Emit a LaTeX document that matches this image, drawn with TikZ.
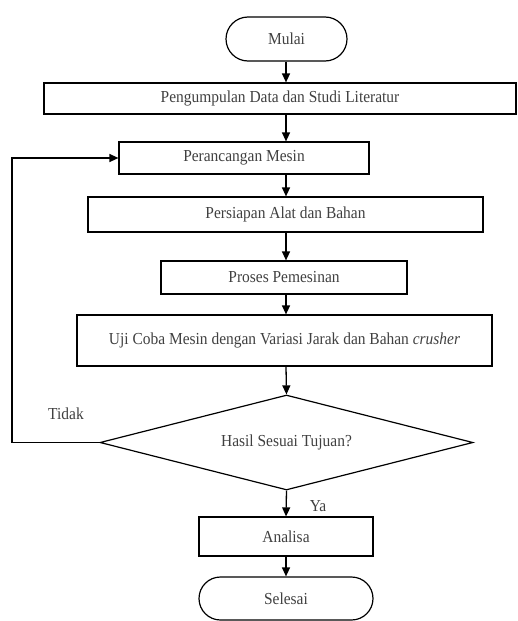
\documentclass[tikz,border=0pt]{standalone}
\usepackage{fontspec}
\setmainfont{Liberation Serif}[FakeStretch=0.92]
\usetikzlibrary{arrows.meta,shapes.geometric,shapes.misc}
\begin{document}
\begin{tikzpicture}[x=1pt,y=-1pt,
  every node/.style={font=\fontsize{16.8}{19}\selectfont, text=black!75},
  box/.style={draw=black, line width=1.2pt, rectangle, inner sep=0pt},
  term/.style={draw=black, line width=1.2pt, rounded rectangle, inner sep=0pt},
  dia/.style={draw=black, line width=1.2pt, diamond, inner sep=0pt},
  arr/.style={draw=black, line width=1.3pt, -{Triangle[length=9pt,width=8pt]}},
  lbl/.style={inner sep=0pt}
]
\useasboundingbox (0,0) rectangle (517,621);
\coordinate (ax) at (286,0);
\coordinate (lp) at (12,0);
\node[term, minimum width=121pt, minimum height=44pt] (mulai) at (286.5,39) {Mulai};
\node[box, minimum width=472pt, minimum height=31pt] (b1) at (280,98.5) {Pengumpulan Data dan Studi Literatur};
\node[box, minimum width=250pt, minimum height=32pt] (b2) at (244,158) {Perancangan Mesin};
\node[box, minimum width=395pt, minimum height=35pt] (b3) at (285.5,214.5) {Persiapan Alat dan Bahan};
\node[box, minimum width=246pt, minimum height=33pt] (b4) at (284,277.5) {Proses Pemesinan};
\node[box, minimum width=415pt, minimum height=51pt] (b5) at (284.5,340.5) {Uji Coba Mesin dengan Variasi Jarak dan Bahan \textit{crusher}};
\node[dia, minimum width=373pt, minimum height=95pt, aspect=3.93] (dec) at (286.5,442.5) {Hasil Sesuai Tujuan?};
\node[box, minimum width=174pt, minimum height=39pt] (ana) at (286,536.5) {Analisa};
\node[term, minimum width=174pt, minimum height=43pt] (sel) at (286,598.5) {Selesai};
\node[lbl] (tidak) at (66,414) {Tidak};
\node[lbl] (ya) at (318,506) {Ya};
\draw[arr] (ax |- mulai.south) -- (ax |- b1.north);
\draw[arr] (ax |- b1.south) -- (ax |- b2.north);
\draw[arr] (ax |- b2.south) -- (ax |- b3.north);
\draw[arr] (ax |- b3.south) -- (ax |- b4.north);
\draw[arr] (ax |- b4.south) -- (ax |- b5.north);
\draw[arr] (ax |- b5.south) -- (dec.north);
\draw[arr] (dec.south) -- (ax |- ana.north);
\draw[arr] (ax |- ana.south) -- (ax |- sel.north);
\draw[arr] (dec.west) -- (lp |- dec.west) -- (lp |- b2.west) -- (b2.west);
\end{tikzpicture}
\end{document}
